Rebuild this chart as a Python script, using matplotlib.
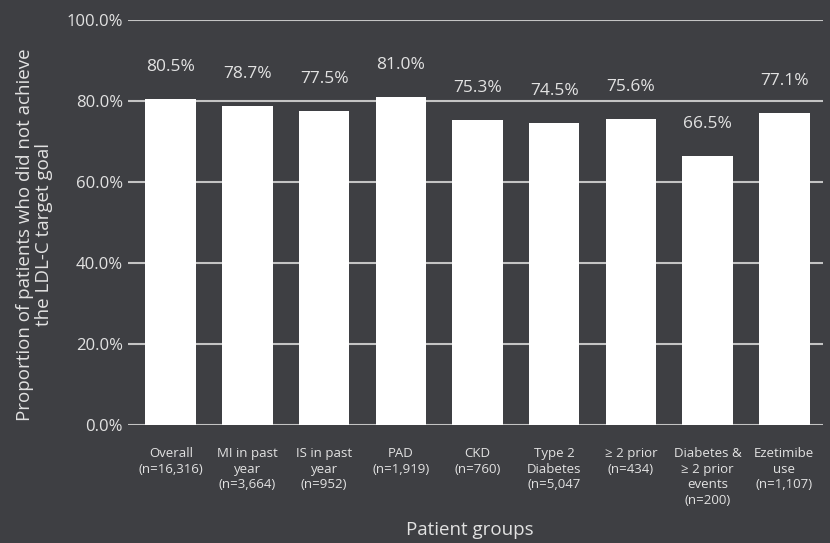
import matplotlib
matplotlib.use("Agg")
import matplotlib.pyplot as plt

# data
groups = [
    "Overall\n(n=16,316)",
    "MI in past\nyear\n(n=3,664)",
    "IS in past\nyear\n(n=952)",
    "PAD\n(n=1,919)",
    "CKD\n(n=760)",
    "Type 2\nDiabetes\n(n=5,047",
    "\u2265 2 prior\n(n=434)",
    "Diabetes &\n\u2265 2 prior\nevents\n(n=200)",
    "Ezetimibe\nuse\n(n=1,107)",
]
pct_not_at_goal = [80.5, 78.7, 77.5, 81.0, 75.3, 74.5, 75.6, 66.5, 77.1]
y_ticks = [0, 20, 40, 60, 80, 100]

BG = "#3e3f43"
TXT = "#e2e2e2"
GRID = "#c4c4c4"

plt.rcParams["font.family"] = ["Open Sans", "DejaVu Sans"]

fig = plt.figure(figsize=(8.3, 5.43), dpi=100, facecolor=BG)
ax = fig.add_axes([0.154, 0.217, 0.838, 0.746], facecolor=BG)

x = range(len(groups))
ax.bar(x, pct_not_at_goal, width=0.66, color="white", zorder=3)

for xi, v in zip(x, pct_not_at_goal):
    ax.annotate(f"{v:.1f}%", (xi, v), xytext=(0, 23), textcoords="offset points",
                ha="center", va="center", color=TXT, fontsize=12.5)

ax.set_ylim(0, 100)
ax.set_xlim(-0.56, len(groups) - 0.49)
ax.set_yticks(y_ticks)
ax.set_yticklabels([f"{t:.1f}%" for t in y_ticks])
ax.set_xticks(list(x))
ax.set_xticklabels(groups, fontsize=9.5, linespacing=1.25)
ax.yaxis.grid(True, color=GRID, linewidth=1.5, zorder=0)
ax.set_axisbelow(True)
ax.tick_params(axis="y", length=0, pad=3.5, colors=TXT, labelsize=12)
ax.tick_params(axis="x", length=0, pad=16, colors=TXT)
for s in ax.spines.values():
    s.set_visible(False)

ax.set_ylabel("Proportion of patients who did not achieve\nthe LDL-C target goal",
              color=TXT, fontsize=13.5, linespacing=1.05)
ax.yaxis.set_label_coords(-0.108, 0.47)
fig.text(0.566, 0.024, "Patient groups", ha="center", va="center", color=TXT, fontsize=13.5)

plt.savefig("out.png", dpi=100, facecolor=BG)
